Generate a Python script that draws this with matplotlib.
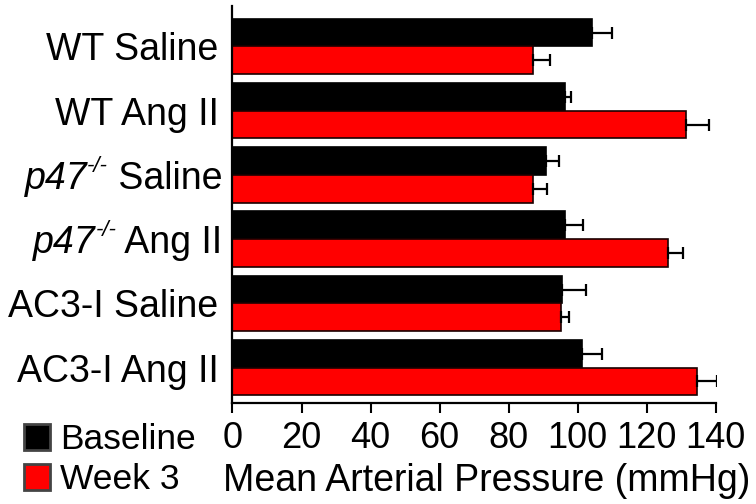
""" Mean arterial pressure, horizontal grouped bars with Matplotlib """

# Imports
import matplotlib.pyplot as plt
import numpy as np
from matplotlib.patches import Patch

plt.rcParams["font.family"] = ["Liberation Sans", "DejaVu Sans"]

# Data (mmHg)
groups = ["WT Saline", "WT Ang II", "p47 Saline", "p47 Ang II",
          "AC3-I Saline", "AC3-I Ang II"]
baseline = [104.1, 96.3, 90.7, 96.3, 95.6, 101.2]
baseline_err = [5.9, 1.9, 4.0, 5.3, 6.7, 5.9]
week3 = [87.0, 131.3, 87.0, 126.3, 95.2, 134.5]
week3_err = [5.0, 6.8, 4.0, 4.1, 2.3, 5.8]

x_ticks = [0, 20, 40, 60, 80, 100, 120, 140]

# Figure
fig = plt.figure(figsize=(7.56, 5.04), dpi=100)
ax = fig.add_axes([0.3075, 0.201, 0.6392, 0.787])

y = np.arange(len(groups))
h = 0.43

ax.barh(y - h / 2, baseline, height=h, color="black", edgecolor="black",
        linewidth=1.2, label="Baseline",
        xerr=[np.zeros(len(groups)), baseline_err],
        error_kw=dict(ecolor="black", elinewidth=1.6, capsize=4, capthick=1.6))
ax.barh(y + h / 2, week3, height=h, color="#ff0000", edgecolor="#1a0000",
        linewidth=1.2, label="Week 3",
        xerr=[np.zeros(len(groups)), week3_err],
        error_kw=dict(ecolor="black", elinewidth=1.6, capsize=4, capthick=1.6))

# Axes styling
ax.set_xlim(0, 140)
ax.set_ylim(5.548, -0.63)
ax.set_xticks(x_ticks)
ax.set_xticklabels([str(t) for t in x_ticks], fontsize=26)
ax.set_yticks(y)
# p47 rows get a composite label (italic name + superscript) below
ax.set_yticklabels([g if not g.startswith("p47") else "" for g in groups],
                   fontsize=27)
ax.tick_params(axis="y", length=0, pad=10)
ax.tick_params(axis="x", length=7, width=1.5, pad=6)
for side in ["top", "right"]:
    ax.spines[side].set_visible(False)
for side in ["left", "bottom"]:
    ax.spines[side].set_linewidth(1.6)

# p47-/- labels
ytrans = ax.get_yaxis_transform()
for i, g in enumerate(groups):
    if not g.startswith("p47"):
        continue
    rest = g.split(" ", 1)[1]
    t_rest = ax.text(-0.0207, i, " " + rest, transform=ytrans, ha="right",
                     va="center_baseline", fontsize=27)
    t_sup = ax.annotate("-/-", xy=(0, 0.70), xycoords=t_rest, ha="right",
                        va="baseline", fontsize=16, style="italic")
    ax.annotate("p47", xy=(0, 0), xycoords=(t_sup, t_rest), ha="right",
                va="bottom", fontsize=27, style="italic")

ax.set_xlabel("Mean Arterial Pressure (mmHg)", fontsize=27)
ax.xaxis.set_label_coords(0.526, -0.152)

# Legend
handles = [Patch(facecolor="black", edgecolor="#444444", linewidth=2),
           Patch(facecolor="#ff0000", edgecolor="#444444", linewidth=2)]
fig.legend(handles, ["Baseline", "Week 3"], loc="upper left",
           bbox_to_anchor=(0.032, 0.160), frameon=False, fontsize=25.5,
           handlelength=0.72, handleheight=0.72, handletextpad=0.3,
           labelspacing=0.2, borderpad=0, borderaxespad=0)

plt.savefig("out.png", dpi=100)
